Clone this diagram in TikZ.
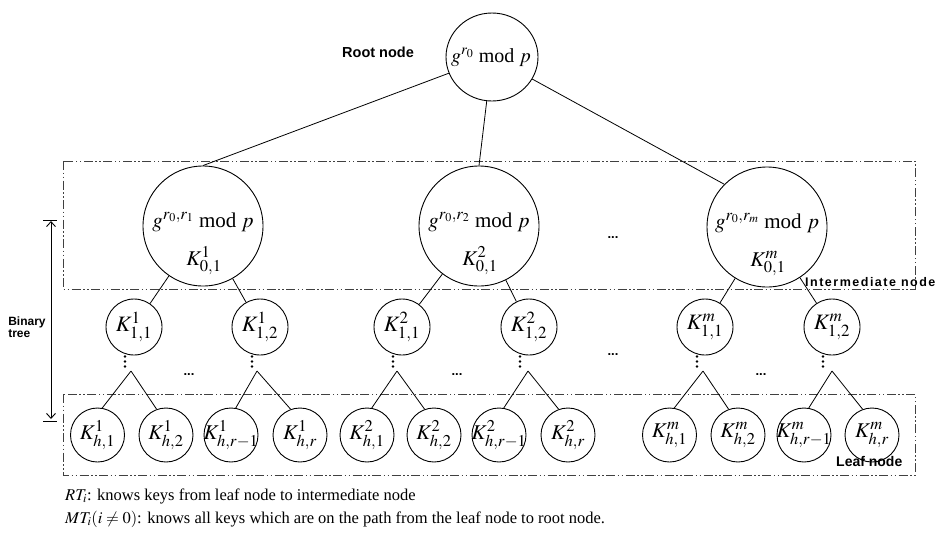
\documentclass[tikz,border=0pt]{standalone}
\usepackage{mathptmx}
\usepackage{fontspec}
\setmainfont{Liberation Serif}
\newfontfamily\labelsans{Liberation Sans}
\newfontfamily\spacedsans[LetterSpace=12]{Liberation Sans}
\usetikzlibrary{arrows.meta,shapes.geometric}
\DeclareMathSizes{21}{21}{16.5}{12}
\DeclareMathSizes{22}{22}{17}{12.5}
\begin{document}
\begin{tikzpicture}[x=1pt,y=-1pt,
  rootc/.style={draw, ellipse, minimum width=92pt, minimum height=88pt, inner sep=0pt, line width=0.9pt},
  bigc/.style={draw, circle, minimum size=120pt, inner sep=0pt, line width=0.9pt},
  midc/.style={draw, circle, minimum size=56pt, inner sep=-9pt, line width=0.9pt, font=\fontsize{22}{26}\selectfont},
  leafc/.style={draw, circle, minimum size=54pt, inner sep=-9pt, line width=0.9pt, font=\fontsize{21}{25}\selectfont},
  conn/.style={line width=0.8pt},
  grp/.style={draw=black!75, line width=0.8pt, dash pattern=on 9pt off 2.5pt on 1.5pt off 2.5pt on 1.5pt off 2.5pt},
  mroot/.style={font=\fontsize{20}{24}\selectfont, inner sep=0pt},
  mbig/.style={font=\fontsize{21}{25}\selectfont, inner sep=0pt},
  tag/.style={font=\labelsans\bfseries\fontsize{14.5}{16}\selectfont, inner sep=0pt},
  hdots/.style={font=\labelsans\bfseries\fontsize{13}{14}\selectfont, inner sep=0pt},
  caption/.style={font=\fontsize{16.5}{19}\selectfont, inner sep=0pt, anchor=base west},
]
\useasboundingbox (0,0) rectangle (941,536);

% group boxes
\draw[grp] (63,161) rectangle (915,289);
\draw[grp] (63,394) rectangle (915,475);

% root
\node[rootc] (root) at (492,57) {};
\node[mroot, anchor=base] (roott) at (491,62) {$g^{r_0}$ mod $p$};
\node[tag, anchor=base west] (rootlbl) at (342,57) {Root node};

% big circles
\node[bigc] (b1) at (203,226) {};
\node[mbig, anchor=base] (b1a) at (203,227) {$g^{r_0,r_1}$ mod $p$};
\node[mbig, anchor=base] (b1b) at (204,265) {$K^1_{0,1}$};
\node[bigc] (b2) at (479,226) {};
\node[mbig, anchor=base] (b2a) at (479,227) {$g^{r_0,r_2}$ mod $p$};
\node[mbig, anchor=base] (b2b) at (480,265) {$K^2_{0,1}$};
\node[bigc] (b3) at (767,227) {};
\node[mbig, anchor=base] (b3a) at (767,228) {$g^{r_0,r_m}$ mod $p$};
\node[mbig, anchor=base] (b3b) at (768,266) {$K^m_{0,1}$};
\node[hdots] (hd0) at (613,238) {...};

\draw[conn] (root) -- (b1.north);
\draw[conn] (root) -- (b2.north);
\draw[conn] (root) -- (b3.135);

% level 1
\node[midc] (m11) at (134,327) {$K^1_{1,1}$};
\node[midc] (m12) at (260,327) {$K^1_{1,2}$};
\node[midc] (m21) at (402,327) {$K^2_{1,1}$};
\node[midc] (m22) at (529,327) {$K^2_{1,2}$};
\node[midc] (m31) at (705,327) {$K^m_{1,1}$};
\node[midc] (m32) at (832,327) {$K^m_{1,2}$};
\node[hdots] (hd1) at (613,355) {...};

\draw[conn] (b1) -- (m11);
\draw[conn] (b1) -- (m12);
\draw[conn] (b2) -- (m21);
\draw[conn] (b2) -- (m22);
\draw[conn] (b3) -- (m31);
\draw[conn] (b3) -- (m32);

% vertical dots and apexes
\foreach \n/\dx/\ax in {1/125/131, 2/252/257, 3/393/397, 4/520/528, 5/697/703, 6/823/832} {
  \foreach \yy in {356.5, 361.5, 366.5} {
    \fill (\dx,\yy) circle[radius=1.3pt];
  }
  \coordinate (a\n) at (\ax,371);
}
\node[hdots] (hd2) at (189,375) {...};
\node[hdots] (hd3) at (457,375) {...};
\node[hdots] (hd4) at (761,375) {...};

% leaves
\node[leafc] (l1) at (97.5,435) {$K^1_{h,1}$};
\node[leafc] (l2) at (166,435) {$K^1_{h,2}$};
\node[leafc] (l3) at (231,435) {$K^1_{h,r-1}$};
\node[leafc] (l4) at (300,435) {$K^1_{h,r}$};
\node[leafc] (l5) at (367,435) {$K^2_{h,1}$};
\node[leafc] (l6) at (434,435) {$K^2_{h,2}$};
\node[leafc] (l7) at (499,435) {$K^2_{h,r-1}$};
\node[leafc] (l8) at (568,435) {$K^2_{h,r}$};
\node[leafc] (l9) at (669.5,435) {$K^m_{h,1}$};
\node[leafc] (l10) at (738,435) {$K^m_{h,2}$};
\node[leafc] (l11) at (804,435) {$K^m_{h,r-1}$};
\node[leafc] (l12) at (872,435) {$K^m_{h,r}$};

\draw[conn] (a1) -- (l1.80);  \draw[conn] (a1) -- (l2.110);
\draw[conn] (a2) -- (l3.80);  \draw[conn] (a2) -- (l4.110);
\draw[conn] (a3) -- (l5.80);  \draw[conn] (a3) -- (l6.110);
\draw[conn] (a4) -- (l7.80);  \draw[conn] (a4) -- (l8.110);
\draw[conn] (a5) -- (l9.80);  \draw[conn] (a5) -- (l10.110);
\draw[conn] (a6) -- (l11.80); \draw[conn] (a6) -- (l12.110);

% labels
\node[font=\spacedsans\bfseries\fontsize{12.5}{14}\selectfont, inner sep=0pt, anchor=base west] (intlbl) at (805,286) {Intermediate node};
\node[font=\labelsans\bfseries\fontsize{14}{16}\selectfont, inner sep=0pt, anchor=base west] (leaflbl) at (836,466) {Leaf node};

% binary tree arrow
\coordinate (bt1) at (51,221);
\coordinate (bt2) at (51,419);
\draw[line width=0.9pt, {Straight Barb[length=5pt,width=9pt]}-{Straight Barb[length=5pt,width=9pt]}] (bt1) -- (bt2);
\draw[line width=0.9pt] (43,220) -- (57,220);
\draw[line width=0.9pt] (43,421) -- (57,421);
\node[font=\labelsans\bfseries\fontsize{12}{12}\selectfont, inner sep=0pt, align=left] (btl) at (27,327) {Binary\\tree};

% captions
\node[caption] (cap1) at (65,500) {$RT_i$: knows keys from leaf node to intermediate node};
\node[caption] (cap2) at (65,523) {$MT_i(i \neq 0)$: knows all keys which are on the path from the leaf node to root node.};
\end{tikzpicture}
\end{document}
